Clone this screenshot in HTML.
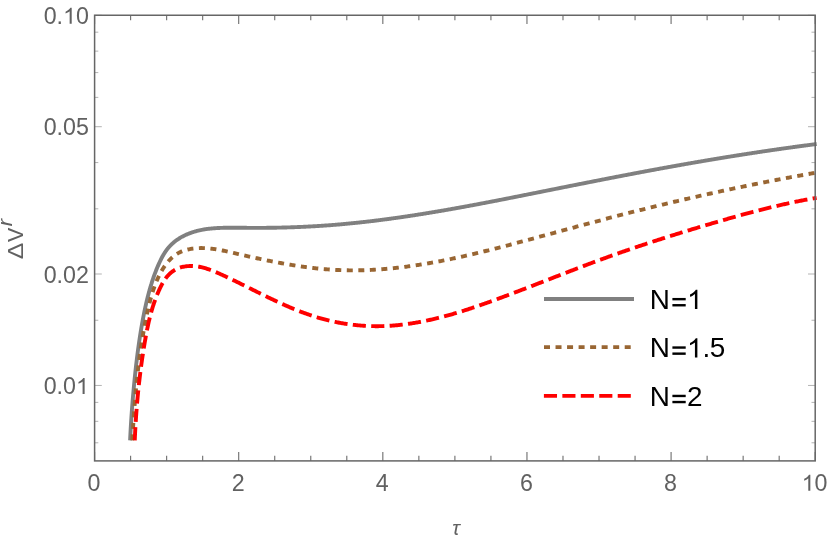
<!DOCTYPE html>
<html><head><meta charset="utf-8"><title>plot</title>
<style>html,body{margin:0;padding:0;background:#fff}body{width:830px;height:545px;overflow:hidden;font-family:"Liberation Sans",sans-serif}</style></head>
<body>
<svg width="830" height="545" viewBox="0 0 830 545" style="display:block;will-change:transform">
<rect width="830" height="545" fill="#fff"/>
<g fill="none" stroke-linecap="butt" stroke-linejoin="round">
<path d="M130.10 440.30 L130.13 439.63 L130.16 438.96 L130.20 438.29 L130.23 437.62 L130.26 436.95 L130.29 436.28 L130.33 435.61 L130.36 434.94 L130.40 434.27 L130.43 433.61 L130.47 432.94 L130.50 432.27 L130.54 431.60 L130.57 430.94 L130.61 430.27 L130.65 429.61 L130.69 428.94 L130.72 428.28 L130.76 427.61 L130.80 426.95 L130.84 426.29 L130.88 425.62 L130.92 424.96 L130.96 424.30 L131.00 423.64 L131.04 422.97 L131.08 422.31 L131.12 421.65 L131.17 420.99 L131.21 420.33 L131.25 419.67 L131.29 419.01 L131.34 418.35 L131.38 417.70 L131.43 417.04 L131.47 416.38 L131.52 415.72 L131.56 415.07 L131.61 414.41 L131.65 413.75 L131.70 413.10 L131.75 412.44 L131.79 411.78 L131.84 411.13 L131.89 410.48 L131.94 409.82 L131.99 409.17 L132.04 408.51 L132.08 407.86 L132.13 407.21 L132.18 406.56 L132.24 405.90 L132.29 405.25 L132.34 404.60 L132.39 403.95 L132.44 403.30 L132.49 402.65 L132.55 402.00 L132.60 401.35 L132.65 400.70 L132.70 400.05 L132.76 399.40 L132.81 398.75 L132.87 398.11 L132.92 397.46 L132.98 396.81 L133.03 396.16 L133.09 395.52 L133.15 394.87 L133.20 394.22 L133.26 393.58 L133.32 392.93 L133.37 392.29 L133.43 391.64 L133.49 391.00 L133.55 390.36 L133.61 389.71 L133.67 389.07 L133.73 388.43 L133.79 387.78 L133.85 387.14 L133.91 386.50 L133.97 385.86 L134.03 385.22 L134.09 384.57 L134.15 383.93 L134.21 383.29 L134.28 382.65 L134.34 382.01 L134.40 381.37 L134.47 380.73 L134.53 380.10 L134.59 379.46 L134.66 378.82 L134.72 378.18 L134.79 377.54 L134.85 376.91 L134.92 376.27 L134.99 375.63 L135.05 375.00 L135.12 374.36 L135.19 373.73 L135.25 373.09 L135.32 372.46 L135.39 371.82 L135.46 371.19 L135.53 370.56 L135.60 369.92 L135.67 369.29 L135.74 368.66 L135.81 368.03 L135.88 367.39 L135.95 366.76 L136.02 366.13 L136.09 365.50 L136.17 364.87 L136.24 364.24 L136.31 363.61 L136.39 362.98 L136.46 362.36 L136.54 361.73 L136.61 361.10 L136.69 360.47 L136.76 359.85 L136.84 359.22 L136.92 358.60 L136.99 357.97 L137.07 357.34 L137.15 356.72 L137.23 356.10 L137.31 355.47 L137.38 354.85 L137.46 354.23 L137.54 353.60 L137.63 352.98 L137.71 352.36 L137.79 351.74 L137.87 351.12 L137.95 350.50 L138.04 349.88 L138.12 349.26 L138.20 348.64 L138.29 348.02 L138.37 347.41 L138.46 346.79 L138.54 346.17 L138.63 345.56 L138.72 344.94 L138.80 344.33 L138.89 343.71 L138.98 343.10 L139.07 342.48 L139.16 341.87 L139.25 341.26 L139.34 340.65 L139.43 340.03 L139.52 339.42 L139.61 338.81 L139.71 338.20 L139.80 337.59 L139.89 336.98 L139.99 336.37 L140.08 335.77 L140.18 335.16 L140.27 334.55 L140.37 333.95 L140.46 333.34 L140.56 332.73 L140.66 332.13 L140.76 331.53 L140.86 330.92 L140.96 330.32 L141.06 329.72 L141.16 329.11 L141.26 328.51 L141.36 327.91 L141.46 327.31 L141.56 326.71 L141.67 326.11 L141.77 325.51 L141.88 324.92 L141.98 324.32 L142.09 323.72 L142.19 323.13 L142.30 322.53 L142.41 321.94 L142.52 321.34 L142.62 320.75 L142.73 320.15 L142.84 319.56 L142.95 318.97 L143.07 318.38 L143.18 317.79 L143.29 317.20 L143.40 316.61 L143.52 316.02 L143.63 315.43 L143.75 314.84 L143.86 314.26 L143.98 313.67 L144.10 313.09 L144.22 312.50 L144.33 311.92 L144.45 311.34 L144.57 310.75 L144.70 310.17 L144.82 309.59 L144.94 309.01 L145.06 308.43 L145.19 307.86 L145.31 307.28 L145.44 306.70 L145.57 306.13 L145.69 305.55 L145.82 304.98 L145.95 304.40 L146.08 303.83 L146.21 303.26 L146.34 302.69 L146.48 302.12 L146.61 301.55 L146.74 300.98 L146.88 300.41 L147.02 299.85 L147.15 299.28 L147.29 298.72 L147.43 298.15 L147.57 297.59 L147.71 297.03 L147.85 296.47 L148.00 295.91 L148.14 295.35 L148.28 294.79 L148.43 294.24 L148.58 293.68 L148.72 293.12 L148.87 292.57 L149.02 292.02 L149.17 291.47 L149.33 290.92 L149.48 290.37 L149.63 289.82 L149.79 289.27 L149.94 288.72 L150.10 288.18 L150.26 287.63 L150.42 287.09 L150.58 286.55 L150.74 286.01 L150.90 285.47 L151.07 284.93 L151.23 284.39 L151.40 283.86 L151.56 283.32 L151.73 282.79 L151.90 282.25 L152.07 281.72 L152.25 281.19 L152.42 280.66 L152.59 280.13 L152.77 279.61 L152.95 279.08 L153.12 278.56 L153.30 278.03 L153.48 277.51 L153.66 276.99 L153.85 276.47 L154.03 275.95 L154.22 275.43 L154.40 274.92 L154.59 274.40 L154.78 273.89 L154.97 273.38 L155.16 272.87 L155.36 272.36 L155.55 271.85 L155.75 271.34 L155.94 270.84 L156.14 270.33 L156.34 269.83 L156.54 269.33 L156.74 268.83 L156.95 268.33 L157.15 267.83 L157.36 267.34 L157.57 266.84 L157.78 266.35 L157.99 265.86 L158.20 265.37 L158.41 264.88 L158.63 264.39 L158.84 263.90 L159.06 263.42 L159.28 262.93 L159.50 262.45 L159.72 261.97 L159.94 261.49 L160.17 261.01 L160.40 260.54 L160.63 260.07 L160.86 259.59 L161.09 259.13 L161.33 258.66 L161.57 258.19 L161.81 257.73 L162.05 257.27 L162.30 256.82 L162.54 256.36 L162.80 255.91 L163.05 255.46 L163.31 255.02 L163.57 254.58 L163.83 254.14 L164.10 253.70 L164.37 253.27 L164.64 252.84 L164.92 252.41 L165.20 251.99 L165.48 251.57 L165.77 251.16 L166.06 250.74 L166.35 250.34 L166.65 249.93 L166.96 249.53 L167.26 249.14 L167.57 248.75 L167.89 248.36 L168.20 247.97 L168.53 247.59 L168.85 247.22 L169.18 246.84 L169.52 246.47 L169.85 246.11 L170.19 245.75 L170.54 245.39 L170.89 245.04 L171.24 244.69 L171.60 244.34 L171.96 244.00 L172.32 243.66 L172.69 243.32 L173.06 242.99 L173.44 242.67 L173.82 242.34 L174.20 242.02 L174.59 241.71 L174.98 241.40 L175.37 241.09 L175.77 240.78 L176.17 240.48 L176.58 240.19 L176.99 239.90 L177.40 239.61 L177.82 239.32 L178.24 239.04 L178.67 238.76 L179.09 238.49 L179.53 238.22 L179.96 237.95 L180.40 237.69 L180.85 237.43 L181.29 237.17 L181.74 236.92 L182.20 236.67 L182.65 236.43 L183.12 236.19 L183.58 235.95 L184.05 235.71 L184.52 235.48 L185.00 235.26 L185.47 235.03 L185.96 234.81 L186.44 234.60 L186.93 234.38 L187.42 234.17 L187.92 233.97 L188.42 233.76 L188.92 233.56 L189.43 233.37 L189.94 233.17 L190.45 232.98 L190.97 232.80 L191.49 232.61 L192.01 232.43 L192.54 232.26 L193.07 232.09 L193.60 231.92 L194.14 231.75 L194.68 231.59 L195.22 231.43 L195.77 231.28 L196.32 231.12 L196.87 230.98 L197.43 230.83 L197.99 230.69 L198.56 230.55 L199.13 230.42 L199.70 230.29 L200.28 230.16 L200.86 230.04 L201.44 229.92 L202.03 229.81 L202.62 229.70 L203.21 229.59 L203.81 229.48 L204.41 229.38 L205.02 229.29 L205.63 229.19 L206.24 229.10 L206.86 229.02 L207.48 228.93 L208.10 228.85 L208.73 228.78 L209.36 228.71 L209.99 228.64 L210.63 228.57 L211.26 228.51 L211.91 228.45 L212.55 228.39 L213.20 228.33 L213.85 228.28 L214.51 228.23 L215.16 228.19 L215.82 228.14 L216.48 228.10 L217.15 228.06 L217.81 228.03 L218.48 228.00 L219.15 227.96 L219.83 227.93 L220.50 227.91 L221.18 227.88 L221.86 227.86 L222.54 227.84 L223.22 227.82 L223.91 227.80 L224.60 227.79 L225.28 227.77 L225.97 227.76 L226.67 227.75 L227.36 227.74 L228.05 227.73 L228.75 227.73 L229.45 227.72 L230.15 227.72 L230.85 227.71 L231.55 227.71 L232.25 227.71 L232.95 227.71 L233.66 227.71 L234.36 227.72 L235.07 227.72 L235.77 227.72 L236.48 227.73 L237.19 227.73 L237.90 227.74 L238.60 227.75 L239.31 227.75 L240.02 227.76 L240.73 227.77 L241.44 227.77 L242.15 227.78 L242.86 227.79 L243.57 227.79 L244.28 227.80 L244.99 227.81 L245.70 227.82 L246.41 227.82 L247.12 227.83 L247.83 227.84 L248.54 227.84 L249.24 227.85 L249.95 227.85 L250.66 227.85 L251.36 227.86 L252.07 227.86 L252.77 227.86 L253.48 227.87 L254.18 227.87 L254.89 227.87 L255.59 227.87 L256.29 227.87 L257.00 227.87 L257.70 227.87 L258.40 227.87 L259.10 227.87 L259.80 227.87 L260.50 227.86 L261.20 227.86 L261.90 227.86 L262.60 227.85 L263.30 227.85 L264.00 227.85 L264.69 227.84 L265.39 227.84 L266.09 227.83 L266.78 227.82 L267.48 227.82 L268.18 227.81 L268.87 227.80 L269.56 227.79 L270.26 227.78 L270.95 227.78 L271.64 227.77 L272.34 227.76 L273.03 227.74 L273.72 227.73 L274.41 227.72 L275.10 227.71 L275.79 227.70 L276.48 227.69 L277.17 227.67 L277.86 227.66 L278.55 227.64 L279.24 227.63 L279.92 227.61 L280.61 227.60 L281.30 227.58 L281.98 227.57 L282.67 227.55 L283.35 227.53 L284.04 227.51 L284.72 227.50 L285.41 227.48 L286.09 227.46 L286.77 227.44 L287.45 227.42 L288.14 227.40 L288.82 227.38 L289.50 227.35 L290.18 227.33 L290.86 227.31 L291.54 227.29 L292.22 227.26 L292.90 227.24 L293.58 227.22 L294.25 227.19 L294.93 227.17 L295.61 227.14 L296.28 227.11 L296.96 227.09 L297.64 227.06 L298.31 227.03 L298.99 227.00 L299.66 226.98 L300.33 226.95 L301.01 226.92 L301.68 226.89 L302.35 226.86 L303.02 226.83 L303.69 226.80 L304.37 226.76 L305.04 226.73 L305.71 226.70 L306.38 226.67 L307.04 226.63 L307.71 226.60 L308.38 226.57 L309.05 226.53 L309.72 226.50 L310.38 226.46 L311.05 226.42 L311.72 226.39 L312.38 226.35 L313.05 226.31 L313.71 226.27 L314.37 226.24 L315.04 226.20 L315.70 226.16 L316.36 226.12 L317.03 226.08 L317.69 226.04 L318.35 226.00 L319.01 225.95 L319.67 225.91 L320.33 225.87 L320.99 225.83 L321.65 225.78 L322.31 225.74 L322.97 225.69 L323.62 225.65 L324.28 225.60 L324.94 225.56 L325.59 225.51 L326.25 225.46 L326.90 225.42 L327.56 225.37 L328.21 225.32 L328.87 225.27 L329.52 225.22 L330.18 225.18 L330.83 225.13 L331.48 225.08 L332.13 225.02 L332.78 224.97 L333.43 224.92 L334.08 224.87 L334.73 224.82 L335.38 224.76 L336.03 224.71 L336.68 224.66 L337.33 224.60 L337.98 224.55 L338.63 224.49 L339.27 224.44 L339.92 224.38 L340.57 224.33 L341.21 224.27 L341.86 224.21 L342.50 224.15 L343.15 224.10 L343.79 224.04 L344.43 223.98 L345.08 223.92 L345.72 223.86 L346.36 223.80 L347.01 223.74 L347.65 223.68 L348.29 223.62 L348.93 223.56 L349.57 223.49 L350.21 223.43 L350.85 223.37 L351.49 223.31 L352.13 223.24 L352.77 223.18 L353.41 223.11 L354.04 223.05 L354.68 222.98 L355.32 222.92 L355.95 222.85 L356.59 222.79 L357.23 222.72 L357.86 222.65 L358.50 222.59 L359.13 222.52 L359.77 222.45 L360.40 222.38 L361.03 222.31 L361.67 222.24 L362.30 222.17 L362.93 222.10 L363.57 222.03 L364.20 221.96 L364.83 221.89 L365.46 221.82 L366.09 221.75 L366.72 221.68 L367.35 221.60 L367.98 221.53 L368.61 221.46 L369.24 221.39 L369.87 221.31 L370.50 221.24 L371.13 221.16 L371.75 221.09 L372.38 221.01 L373.01 220.94 L373.63 220.86 L374.26 220.79 L374.89 220.71 L375.51 220.63 L376.14 220.56 L376.76 220.48 L377.39 220.40 L378.01 220.32 L378.64 220.24 L379.26 220.17 L379.88 220.09 L380.51 220.01 L381.13 219.93 L381.75 219.85 L382.37 219.77 L383.00 219.69 L383.62 219.61 L384.24 219.52 L384.86 219.44 L385.48 219.36 L386.10 219.28 L386.72 219.20 L387.34 219.11 L387.96 219.03 L388.58 218.95 L389.20 218.86 L389.82 218.78 L390.44 218.70 L391.05 218.61 L391.67 218.53 L392.29 218.44 L392.91 218.36 L393.52 218.27 L394.14 218.19 L394.76 218.10 L395.37 218.01 L395.99 217.93 L396.61 217.84 L397.22 217.75 L397.84 217.66 L398.45 217.58 L399.07 217.49 L399.68 217.40 L400.29 217.31 L400.91 217.22 L401.52 217.13 L402.13 217.05 L402.75 216.96 L403.36 216.87 L403.97 216.78 L404.59 216.69 L405.20 216.60 L405.81 216.50 L406.42 216.41 L407.03 216.32 L407.64 216.23 L408.25 216.14 L408.86 216.05 L409.47 215.96 L410.08 215.86 L410.69 215.77 L411.30 215.68 L411.91 215.58 L412.52 215.49 L413.13 215.40 L413.74 215.30 L414.35 215.21 L414.96 215.12 L415.57 215.02 L416.17 214.93 L416.78 214.83 L417.39 214.74 L418.00 214.64 L418.60 214.55 L419.21 214.45 L419.82 214.35 L420.42 214.26 L421.03 214.16 L421.64 214.07 L422.24 213.97 L422.85 213.87 L423.45 213.77 L424.06 213.68 L424.66 213.58 L425.27 213.48 L425.87 213.38 L426.48 213.29 L427.08 213.19 L427.68 213.09 L428.29 212.99 L428.89 212.89 L429.49 212.79 L430.10 212.69 L430.70 212.59 L431.30 212.49 L431.91 212.39 L432.51 212.29 L433.11 212.19 L433.71 212.09 L434.32 211.99 L434.92 211.89 L435.52 211.79 L436.12 211.69 L436.72 211.59 L437.32 211.49 L437.92 211.38 L438.52 211.28 L439.12 211.18 L439.72 211.08 L440.32 210.98 L440.92 210.87 L441.52 210.77 L442.12 210.67 L442.72 210.56 L443.32 210.46 L443.92 210.36 L444.52 210.25 L445.12 210.15 L445.72 210.05 L446.32 209.94 L446.91 209.84 L447.51 209.73 L448.11 209.63 L448.71 209.52 L449.30 209.42 L449.90 209.31 L450.50 209.21 L451.10 209.10 L451.69 209.00 L452.29 208.89 L452.89 208.78 L453.48 208.68 L454.08 208.57 L454.68 208.47 L455.27 208.36 L455.87 208.25 L456.46 208.15 L457.06 208.04 L457.65 207.93 L458.25 207.82 L458.85 207.72 L459.44 207.61 L460.03 207.50 L460.63 207.39 L461.22 207.29 L461.82 207.18 L462.41 207.07 L463.01 206.96 L463.60 206.85 L464.20 206.74 L464.79 206.64 L465.38 206.53 L465.98 206.42 L466.57 206.31 L467.16 206.20 L467.76 206.09 L468.35 205.98 L468.94 205.87 L469.53 205.76 L470.13 205.65 L470.72 205.54 L471.31 205.43 L471.90 205.32 L472.50 205.21 L473.09 205.10 L473.68 204.99 L474.27 204.88 L474.86 204.77 L475.46 204.66 L476.05 204.55 L476.64 204.43 L477.23 204.32 L477.82 204.21 L478.41 204.10 L479.00 203.99 L479.59 203.88 L480.18 203.77 L480.77 203.65 L481.36 203.54 L481.96 203.43 L482.55 203.32 L483.14 203.20 L483.73 203.09 L484.32 202.98 L484.91 202.87 L485.50 202.75 L486.09 202.64 L486.67 202.53 L487.26 202.41 L487.85 202.30 L488.44 202.19 L489.03 202.08 L489.62 201.96 L490.21 201.85 L490.80 201.73 L491.39 201.62 L491.98 201.51 L492.57 201.39 L493.15 201.28 L493.74 201.17 L494.33 201.05 L494.92 200.94 L495.51 200.82 L496.10 200.71 L496.68 200.59 L497.27 200.48 L497.86 200.37 L498.45 200.25 L499.04 200.14 L499.62 200.02 L500.21 199.91 L500.80 199.79 L501.39 199.68 L501.97 199.56 L502.56 199.45 L503.15 199.33 L503.74 199.22 L504.32 199.10 L504.91 198.98 L505.50 198.87 L506.08 198.75 L506.67 198.64 L507.26 198.52 L507.85 198.41 L508.43 198.29 L509.02 198.18 L509.61 198.06 L510.19 197.94 L510.78 197.83 L511.37 197.71 L511.95 197.60 L512.54 197.48 L513.12 197.36 L513.71 197.25 L514.30 197.13 L514.88 197.01 L515.47 196.90 L516.06 196.78 L516.64 196.67 L517.23 196.55 L517.81 196.43 L518.40 196.32 L518.99 196.20 L519.57 196.08 L520.16 195.97 L520.74 195.85 L521.33 195.73 L521.92 195.62 L522.50 195.50 L523.09 195.38 L523.67 195.27 L524.26 195.15 L524.84 195.03 L525.43 194.91 L526.01 194.80 L526.60 194.68 L527.19 194.56 L527.77 194.45 L528.36 194.33 L528.94 194.21 L529.53 194.10 L530.11 193.98 L530.70 193.86 L531.28 193.74 L531.87 193.63 L532.45 193.51 L533.04 193.39 L533.63 193.28 L534.21 193.16 L534.80 193.04 L535.38 192.92 L535.97 192.81 L536.55 192.69 L537.14 192.57 L537.72 192.45 L538.31 192.34 L538.89 192.22 L539.48 192.10 L540.06 191.99 L540.65 191.87 L541.23 191.75 L541.82 191.63 L542.40 191.52 L542.99 191.40 L543.58 191.28 L544.16 191.16 L544.75 191.05 L545.33 190.93 L545.92 190.81 L546.50 190.70 L547.09 190.58 L547.67 190.46 L548.26 190.34 L548.84 190.23 L549.43 190.11 L550.01 189.99 L550.60 189.88 L551.18 189.76 L551.77 189.64 L552.36 189.52 L552.94 189.41 L553.53 189.29 L554.11 189.17 L554.70 189.06 L555.28 188.94 L555.87 188.82 L556.45 188.70 L557.04 188.59 L557.62 188.47 L558.21 188.35 L558.80 188.24 L559.38 188.12 L559.97 188.00 L560.55 187.89 L561.14 187.77 L561.72 187.65 L562.31 187.53 L562.89 187.42 L563.48 187.30 L564.07 187.18 L564.65 187.07 L565.24 186.95 L565.82 186.83 L566.41 186.72 L566.99 186.60 L567.58 186.48 L568.17 186.37 L568.75 186.25 L569.34 186.13 L569.92 186.02 L570.51 185.90 L571.09 185.78 L571.68 185.67 L572.27 185.55 L572.85 185.43 L573.44 185.32 L574.02 185.20 L574.61 185.08 L575.20 184.97 L575.78 184.85 L576.37 184.73 L576.96 184.62 L577.54 184.50 L578.13 184.38 L578.71 184.27 L579.30 184.15 L579.89 184.04 L580.47 183.92 L581.06 183.80 L581.65 183.69 L582.23 183.57 L582.82 183.46 L583.40 183.34 L583.99 183.22 L584.58 183.11 L585.16 182.99 L585.75 182.88 L586.34 182.76 L586.92 182.64 L587.51 182.53 L588.10 182.41 L588.68 182.30 L589.27 182.18 L589.86 182.06 L590.44 181.95 L591.03 181.83 L591.62 181.72 L592.21 181.60 L592.79 181.49 L593.38 181.37 L593.97 181.26 L594.55 181.14 L595.14 181.02 L595.73 180.91 L596.31 180.79 L596.90 180.68 L597.49 180.56 L598.08 180.45 L598.66 180.33 L599.25 180.22 L599.84 180.10 L600.43 179.99 L601.01 179.87 L601.60 179.76 L602.19 179.64 L602.78 179.53 L603.36 179.41 L603.95 179.30 L604.54 179.18 L605.13 179.07 L605.72 178.95 L606.30 178.84 L606.89 178.72 L607.48 178.61 L608.07 178.50 L608.66 178.38 L609.24 178.27 L609.83 178.15 L610.42 178.04 L611.01 177.92 L611.60 177.81 L612.19 177.70 L612.77 177.58 L613.36 177.47 L613.95 177.35 L614.54 177.24 L615.13 177.13 L615.72 177.01 L616.31 176.90 L616.89 176.78 L617.48 176.67 L618.07 176.56 L618.66 176.44 L619.25 176.33 L619.84 176.22 L620.43 176.10 L621.02 175.99 L621.61 175.88 L622.20 175.76 L622.79 175.65 L623.38 175.54 L623.96 175.42 L624.55 175.31 L625.14 175.20 L625.73 175.09 L626.32 174.97 L626.91 174.86 L627.50 174.75 L628.09 174.63 L628.68 174.52 L629.27 174.41 L629.86 174.30 L630.45 174.18 L631.04 174.07 L631.63 173.96 L632.22 173.85 L632.81 173.74 L633.40 173.62 L634.00 173.51 L634.59 173.40 L635.18 173.29 L635.77 173.18 L636.36 173.06 L636.95 172.95 L637.54 172.84 L638.13 172.73 L638.72 172.62 L639.31 172.51 L639.90 172.39 L640.49 172.28 L641.09 172.17 L641.68 172.06 L642.27 171.95 L642.86 171.84 L643.45 171.73 L644.04 171.62 L644.64 171.51 L645.23 171.40 L645.82 171.28 L646.41 171.17 L647.00 171.06 L647.60 170.95 L648.19 170.84 L648.78 170.73 L649.37 170.62 L649.96 170.51 L650.56 170.40 L651.15 170.29 L651.74 170.18 L652.33 170.07 L652.93 169.96 L653.52 169.85 L654.11 169.74 L654.71 169.63 L655.30 169.52 L655.89 169.41 L656.49 169.31 L657.08 169.20 L657.67 169.09 L658.27 168.98 L658.86 168.87 L659.45 168.76 L660.05 168.65 L660.64 168.54 L661.23 168.43 L661.83 168.32 L662.42 168.22 L663.02 168.11 L663.61 168.00 L664.20 167.89 L664.80 167.78 L665.39 167.68 L665.99 167.57 L666.58 167.46 L667.18 167.35 L667.77 167.24 L668.37 167.14 L668.96 167.03 L669.56 166.92 L670.15 166.81 L670.75 166.71 L671.34 166.60 L671.94 166.49 L672.53 166.38 L673.13 166.28 L673.72 166.17 L674.32 166.06 L674.92 165.96 L675.51 165.85 L676.11 165.74 L676.70 165.64 L677.30 165.53 L677.90 165.43 L678.49 165.32 L679.09 165.21 L679.69 165.11 L680.28 165.00 L680.88 164.90 L681.48 164.79 L682.07 164.68 L682.67 164.58 L683.27 164.47 L683.86 164.37 L684.46 164.26 L685.06 164.16 L685.66 164.05 L686.25 163.95 L686.85 163.84 L687.45 163.74 L688.05 163.63 L688.65 163.53 L689.24 163.42 L689.84 163.32 L690.44 163.21 L691.04 163.11 L691.64 163.01 L692.23 162.90 L692.83 162.80 L693.43 162.69 L694.03 162.59 L694.63 162.49 L695.23 162.38 L695.83 162.28 L696.43 162.18 L697.03 162.07 L697.63 161.97 L698.22 161.87 L698.82 161.76 L699.42 161.66 L700.02 161.56 L700.62 161.46 L701.22 161.35 L701.82 161.25 L702.42 161.15 L703.02 161.05 L703.62 160.94 L704.23 160.84 L704.83 160.74 L705.43 160.64 L706.03 160.54 L706.63 160.43 L707.23 160.33 L707.83 160.23 L708.43 160.13 L709.03 160.03 L709.63 159.93 L710.24 159.83 L710.84 159.73 L711.44 159.62 L712.04 159.52 L712.64 159.42 L713.24 159.32 L713.85 159.22 L714.45 159.12 L715.05 159.02 L715.65 158.92 L716.26 158.82 L716.86 158.72 L717.46 158.62 L718.06 158.52 L718.67 158.42 L719.27 158.32 L719.87 158.22 L720.48 158.12 L721.08 158.03 L721.68 157.93 L722.29 157.83 L722.89 157.73 L723.49 157.63 L724.10 157.53 L724.70 157.43 L725.31 157.33 L725.91 157.24 L726.51 157.14 L727.12 157.04 L727.72 156.94 L728.33 156.84 L728.93 156.75 L729.54 156.65 L730.14 156.55 L730.75 156.45 L731.35 156.36 L731.96 156.26 L732.56 156.16 L733.17 156.06 L733.78 155.97 L734.38 155.87 L734.99 155.77 L735.59 155.68 L736.20 155.58 L736.81 155.49 L737.41 155.39 L738.02 155.29 L738.62 155.20 L739.23 155.10 L739.84 155.01 L740.45 154.91 L741.05 154.81 L741.66 154.72 L742.27 154.62 L742.87 154.53 L743.48 154.43 L744.09 154.34 L744.70 154.24 L745.30 154.15 L745.91 154.05 L746.52 153.96 L747.13 153.87 L747.74 153.77 L748.35 153.68 L748.95 153.58 L749.56 153.49 L750.17 153.40 L750.78 153.30 L751.39 153.21 L752.00 153.11 L752.61 153.02 L753.22 152.93 L753.83 152.84 L754.44 152.74 L755.05 152.65 L755.66 152.56 L756.27 152.46 L756.88 152.37 L757.49 152.28 L758.10 152.19 L758.71 152.10 L759.32 152.00 L759.93 151.91 L760.54 151.82 L761.15 151.73 L761.76 151.64 L762.37 151.55 L762.98 151.45 L763.59 151.36 L764.21 151.27 L764.82 151.18 L765.43 151.09 L766.04 151.00 L766.65 150.91 L767.27 150.82 L767.88 150.73 L768.49 150.64 L769.10 150.55 L769.72 150.46 L770.33 150.37 L770.94 150.28 L771.55 150.19 L772.17 150.10 L772.78 150.01 L773.39 149.92 L774.01 149.83 L774.62 149.74 L775.24 149.66 L775.85 149.57 L776.46 149.48 L777.08 149.39 L777.69 149.30 L778.31 149.21 L778.92 149.13 L779.54 149.04 L780.15 148.95 L780.77 148.86 L781.38 148.78 L782.00 148.69 L782.61 148.60 L783.23 148.51 L783.84 148.43 L784.46 148.34 L785.07 148.25 L785.69 148.17 L786.31 148.08 L786.92 147.99 L787.54 147.91 L788.16 147.82 L788.77 147.74 L789.39 147.65 L790.01 147.57 L790.62 147.48 L791.24 147.39 L791.86 147.31 L792.48 147.22 L793.09 147.14 L793.71 147.05 L794.33 146.97 L794.95 146.89 L795.56 146.80 L796.18 146.72 L796.80 146.63 L797.42 146.55 L798.04 146.46 L798.66 146.38 L799.28 146.30 L799.90 146.21 L800.51 146.13 L801.13 146.05 L801.75 145.96 L802.37 145.88 L802.99 145.80 L803.61 145.72 L804.23 145.63 L804.85 145.55 L805.47 145.47 L806.09 145.39 L806.71 145.31 L807.34 145.22 L807.96 145.14 L808.58 145.06 L809.20 144.98 L809.82 144.90 L810.44 144.82 L811.06 144.74 L811.68 144.66 L812.31 144.57 L812.93 144.49 L813.55 144.41 L814.17 144.33 L814.80 144.25 L815.42 144.17 L816.04 144.09 L816.66 144.01" stroke="#808080" stroke-width="3.9"/>
<path d="M132.28 440.30 L132.34 439.30 L132.40 438.30 L132.46 437.31 L132.52 436.31 L132.58 435.31 L132.64 434.31 L132.70 433.31 L132.76 432.31 L132.82 431.31 L132.88 430.31 L132.94 429.32 L133.00 428.32 L133.06 427.32 L133.13 426.32 L133.19 425.32 L133.26 424.32 L133.32 423.32 L133.39 422.32 L133.45 421.32 L133.52 420.32 L133.59 419.32 L133.65 418.33 L133.72 417.33 L133.79 416.33 L133.86 415.33 L133.93 414.33 L134.00 413.33 L134.07 412.33 L134.15 411.33 L134.22 410.33 L134.29 409.33 L134.37 408.33 L134.44 407.34 L134.52 406.34 L134.60 405.34 L134.68 404.34 L134.75 403.34 L134.83 402.34 L134.92 401.34 L135.00 400.35 L135.08 399.35 L135.16 398.35 L135.25 397.35 L135.33 396.35 L135.42 395.36 L135.50 394.36 L135.59 393.36 L135.68 392.36 L135.77 391.36 L135.86 390.37 L135.95 389.37 L136.05 388.37 L136.14 387.38 L136.23 386.38 L136.33 385.38 L136.43 384.38 L136.53 383.39 L136.62 382.39 L136.72 381.40 L136.83 380.40 L136.93 379.40 L137.03 378.41 L137.14 377.41 L137.24 376.42 L137.35 375.42 L137.46 374.43 L137.57 373.43 L137.68 372.44 L137.79 371.44 L137.91 370.45 L138.02 369.45 L138.14 368.46 L138.26 367.46 L138.38 366.47 L138.50 365.48 L138.62 364.48 L138.74 363.49 L138.87 362.50 L138.99 361.50 L139.12 360.51 L139.25 359.52 L139.38 358.53 L139.51 357.54 L139.64 356.54 L139.78 355.55 L139.91 354.56 L140.05 353.57 L140.19 352.58 L140.33 351.59 L140.47 350.60 L140.62 349.61 L140.76 348.62 L140.91 347.63 L141.06 346.64 L141.21 345.65 L141.36 344.66 L141.52 343.68 L141.67 342.69 L141.83 341.70 L141.99 340.71 L142.15 339.73 L142.31 338.74 L142.47 337.75 L142.64 336.77 L142.81 335.78 L142.97 334.79 L143.15 333.81 L143.32 332.82 L143.49 331.84 L143.67 330.85 L143.85 329.87 L144.03 328.89 L144.21 327.90 L144.39 326.92 L144.58 325.94 L144.77 324.96 L144.96 323.97 L145.15 322.99 L145.34 322.01 L145.54 321.03 L145.73 320.05 L145.93 319.07 L146.13 318.09 L146.34 317.11 L146.54 316.13 L146.75 315.15 L146.96 314.17 L147.17 313.20 L147.39 312.22 L147.60 311.24 L147.82 310.27 L148.04 309.29 L148.26 308.31 L148.49 307.34 L148.72 306.36 L148.95 305.39 L149.19 304.42 L149.43 303.45 L149.67 302.47 L149.92 301.50 L150.17 300.54 L150.43 299.57 L150.69 298.60 L150.95 297.64 L151.23 296.67 L151.50 295.71 L151.79 294.75 L152.08 293.79 L152.37 292.83 L152.67 291.87 L152.98 290.92 L153.29 289.96 L153.61 289.01 L153.94 288.06 L154.28 287.12 L154.62 286.17 L154.97 285.23 L155.33 284.28 L155.70 283.35 L156.08 282.41 L156.46 281.47 L156.86 280.54 L157.26 279.61 L157.67 278.68 L158.10 277.76 L158.53 276.84 L158.97 275.92 L159.42 275.01 L159.88 274.10 L160.36 273.19 L160.84 272.30 L161.33 271.41 L161.84 270.52 L162.36 269.65 L162.89 268.79 L163.43 267.93 L163.98 267.09 L164.54 266.25 L165.12 265.43 L165.71 264.62 L166.31 263.82 L166.92 263.04 L167.55 262.27 L168.19 261.52 L168.84 260.78 L169.51 260.06 L170.19 259.35 L170.88 258.66 L171.59 257.99 L172.31 257.34 L173.05 256.71 L173.80 256.10 L174.57 255.51 L175.35 254.95 L176.14 254.40 L176.96 253.88 L177.78 253.38 L178.63 252.91 L179.48 252.46 L180.36 252.03 L181.25 251.64 L182.15 251.26 L183.07 250.91 L184.00 250.58 L184.94 250.28 L185.90 250.00 L186.86 249.74 L187.83 249.50 L188.81 249.28 L189.80 249.08 L190.79 248.90 L191.79 248.74 L192.79 248.60 L193.80 248.48 L194.81 248.37 L195.82 248.28 L196.84 248.21 L197.85 248.15 L198.87 248.11 L199.88 248.08 L200.89 248.07 L201.90 248.07 L202.90 248.08 L203.91 248.11 L204.91 248.15 L205.91 248.20 L206.91 248.26 L207.91 248.33 L208.91 248.42 L209.90 248.51 L210.89 248.62 L211.89 248.74 L212.88 248.86 L213.87 248.99 L214.86 249.13 L215.84 249.28 L216.83 249.44 L217.82 249.61 L218.80 249.78 L219.79 249.96 L220.77 250.14 L221.75 250.33 L222.73 250.53 L223.71 250.73 L224.69 250.93 L225.67 251.14 L226.65 251.36 L227.63 251.57 L228.61 251.79 L229.59 252.01 L230.57 252.24 L231.55 252.46 L232.53 252.69 L233.50 252.92 L234.48 253.15 L235.46 253.38 L236.44 253.61 L237.42 253.84 L238.40 254.06 L239.37 254.29 L240.35 254.52 L241.33 254.74 L242.31 254.97 L243.29 255.19 L244.27 255.42 L245.25 255.64 L246.23 255.87 L247.21 256.09 L248.19 256.31 L249.17 256.53 L250.15 256.75 L251.13 256.97 L252.11 257.19 L253.10 257.41 L254.08 257.62 L255.06 257.84 L256.04 258.05 L257.02 258.27 L258.00 258.48 L258.99 258.69 L259.97 258.90 L260.95 259.11 L261.93 259.32 L262.92 259.53 L263.90 259.73 L264.88 259.94 L265.87 260.14 L266.85 260.34 L267.83 260.55 L268.82 260.75 L269.80 260.94 L270.79 261.14 L271.77 261.34 L272.76 261.53 L273.74 261.73 L274.73 261.92 L275.71 262.11 L276.70 262.30 L277.68 262.48 L278.67 262.67 L279.65 262.85 L280.64 263.04 L281.63 263.22 L282.61 263.40 L283.60 263.57 L284.59 263.75 L285.57 263.92 L286.56 264.10 L287.55 264.27 L288.53 264.44 L289.52 264.60 L290.51 264.77 L291.50 264.93 L292.49 265.09 L293.48 265.25 L294.46 265.41 L295.45 265.57 L296.44 265.72 L297.43 265.87 L298.42 266.02 L299.41 266.17 L300.40 266.31 L301.39 266.46 L302.38 266.60 L303.37 266.74 L304.36 266.87 L305.35 267.01 L306.34 267.14 L307.33 267.27 L308.32 267.40 L309.32 267.52 L310.31 267.65 L311.30 267.77 L312.29 267.88 L313.28 268.00 L314.27 268.11 L315.27 268.22 L316.26 268.33 L317.25 268.44 L318.25 268.54 L319.24 268.64 L320.23 268.74 L321.23 268.83 L322.22 268.93 L323.21 269.02 L324.21 269.10 L325.20 269.19 L326.20 269.27 L327.19 269.35 L328.19 269.42 L329.18 269.50 L330.18 269.57 L331.17 269.63 L332.17 269.70 L333.16 269.76 L334.16 269.82 L335.16 269.87 L336.15 269.93 L337.15 269.98 L338.15 270.02 L339.14 270.07 L340.14 270.11 L341.14 270.14 L342.14 270.18 L343.13 270.21 L344.13 270.24 L345.13 270.26 L346.13 270.28 L347.13 270.30 L348.12 270.32 L349.12 270.33 L350.12 270.34 L351.12 270.35 L352.12 270.35 L353.12 270.35 L354.12 270.35 L355.12 270.34 L356.12 270.34 L357.11 270.33 L358.11 270.31 L359.11 270.30 L360.11 270.28 L361.11 270.26 L362.11 270.23 L363.11 270.21 L364.11 270.18 L365.11 270.14 L366.11 270.11 L367.11 270.07 L368.11 270.03 L369.11 269.99 L370.11 269.94 L371.11 269.89 L372.11 269.84 L373.11 269.79 L374.11 269.73 L375.11 269.67 L376.11 269.61 L377.11 269.55 L378.11 269.48 L379.11 269.42 L380.11 269.35 L381.11 269.27 L382.11 269.20 L383.10 269.12 L384.10 269.04 L385.10 268.95 L386.10 268.87 L387.10 268.78 L388.10 268.69 L389.10 268.60 L390.10 268.51 L391.09 268.41 L392.09 268.31 L393.09 268.21 L394.09 268.10 L395.08 268.00 L396.08 267.89 L397.08 267.78 L398.08 267.67 L399.07 267.55 L400.07 267.44 L401.07 267.32 L402.06 267.20 L403.06 267.08 L404.05 266.95 L405.05 266.82 L406.04 266.70 L407.04 266.56 L408.03 266.43 L409.03 266.30 L410.02 266.16 L411.02 266.02 L412.01 265.88 L413.00 265.74 L414.00 265.59 L414.99 265.45 L415.98 265.30 L416.98 265.15 L417.97 265.00 L418.96 264.84 L419.95 264.69 L420.94 264.53 L421.93 264.37 L422.92 264.21 L423.91 264.05 L424.90 263.89 L425.89 263.72 L426.88 263.55 L427.87 263.38 L428.86 263.21 L429.84 263.04 L430.83 262.87 L431.82 262.69 L432.80 262.51 L433.79 262.33 L434.78 262.15 L435.76 261.97 L436.75 261.79 L437.73 261.60 L438.71 261.42 L439.70 261.23 L440.68 261.04 L441.66 260.85 L442.65 260.66 L443.63 260.46 L444.61 260.27 L445.59 260.07 L446.57 259.87 L447.56 259.67 L448.54 259.47 L449.52 259.27 L450.50 259.07 L451.48 258.86 L452.45 258.66 L453.43 258.45 L454.41 258.24 L455.39 258.03 L456.37 257.82 L457.35 257.61 L458.32 257.40 L459.30 257.18 L460.28 256.97 L461.26 256.75 L462.23 256.53 L463.21 256.31 L464.18 256.09 L465.16 255.87 L466.13 255.65 L467.11 255.43 L468.08 255.20 L469.06 254.98 L470.03 254.75 L471.01 254.52 L471.98 254.30 L472.95 254.07 L473.93 253.84 L474.90 253.60 L475.87 253.37 L476.85 253.14 L477.82 252.91 L478.79 252.67 L479.76 252.43 L480.73 252.20 L481.71 251.96 L482.68 251.72 L483.65 251.48 L484.62 251.24 L485.59 251.00 L486.56 250.76 L487.53 250.52 L488.50 250.27 L489.47 250.03 L490.44 249.79 L491.41 249.54 L492.38 249.29 L493.35 249.05 L494.32 248.80 L495.29 248.55 L496.26 248.30 L497.22 248.05 L498.19 247.80 L499.16 247.55 L500.13 247.30 L501.10 247.05 L502.07 246.80 L503.03 246.55 L504.00 246.29 L504.97 246.04 L505.94 245.79 L506.90 245.53 L507.87 245.28 L508.84 245.02 L509.81 244.76 L510.77 244.51 L511.74 244.25 L512.71 243.99 L513.67 243.74 L514.64 243.48 L515.61 243.22 L516.57 242.96 L517.54 242.70 L518.51 242.45 L519.47 242.19 L520.44 241.93 L521.41 241.67 L522.37 241.41 L523.34 241.15 L524.31 240.89 L525.27 240.62 L526.24 240.36 L527.20 240.10 L528.17 239.84 L529.14 239.58 L530.10 239.32 L531.07 239.06 L532.03 238.80 L533.00 238.53 L533.97 238.27 L534.93 238.01 L535.90 237.75 L536.86 237.49 L537.83 237.22 L538.80 236.96 L539.76 236.70 L540.73 236.44 L541.69 236.17 L542.66 235.91 L543.63 235.65 L544.59 235.39 L545.56 235.12 L546.52 234.86 L547.49 234.60 L548.46 234.34 L549.42 234.07 L550.39 233.81 L551.35 233.55 L552.32 233.29 L553.29 233.02 L554.25 232.76 L555.22 232.50 L556.18 232.24 L557.15 231.97 L558.12 231.71 L559.08 231.45 L560.05 231.19 L561.02 230.93 L561.98 230.66 L562.95 230.40 L563.91 230.14 L564.88 229.88 L565.85 229.62 L566.81 229.35 L567.78 229.09 L568.75 228.83 L569.71 228.57 L570.68 228.31 L571.65 228.05 L572.61 227.78 L573.58 227.52 L574.55 227.26 L575.51 227.00 L576.48 226.74 L577.45 226.48 L578.41 226.22 L579.38 225.96 L580.35 225.70 L581.31 225.44 L582.28 225.18 L583.25 224.92 L584.21 224.66 L585.18 224.40 L586.15 224.14 L587.11 223.88 L588.08 223.62 L589.05 223.36 L590.02 223.10 L590.98 222.84 L591.95 222.59 L592.92 222.33 L593.89 222.07 L594.85 221.81 L595.82 221.55 L596.79 221.30 L597.76 221.04 L598.72 220.78 L599.69 220.53 L600.66 220.27 L601.63 220.01 L602.59 219.76 L603.56 219.50 L604.53 219.25 L605.50 218.99 L606.47 218.74 L607.44 218.48 L608.40 218.23 L609.37 217.97 L610.34 217.72 L611.31 217.46 L612.28 217.21 L613.25 216.96 L614.21 216.71 L615.18 216.45 L616.15 216.20 L617.12 215.95 L618.09 215.70 L619.06 215.45 L620.03 215.20 L621.00 214.95 L621.97 214.69 L622.94 214.45 L623.91 214.20 L624.88 213.95 L625.85 213.70 L626.82 213.45 L627.79 213.20 L628.76 212.95 L629.73 212.71 L630.70 212.46 L631.67 212.21 L632.64 211.97 L633.61 211.72 L634.58 211.47 L635.55 211.23 L636.52 210.98 L637.49 210.74 L638.46 210.50 L639.43 210.25 L640.40 210.01 L641.37 209.77 L642.34 209.52 L643.32 209.28 L644.29 209.04 L645.26 208.80 L646.23 208.56 L647.20 208.32 L648.17 208.08 L649.14 207.84 L650.12 207.60 L651.09 207.36 L652.06 207.12 L653.03 206.88 L654.01 206.64 L654.98 206.41 L655.95 206.17 L656.92 205.93 L657.90 205.70 L658.87 205.46 L659.84 205.23 L660.81 204.99 L661.79 204.76 L662.76 204.52 L663.73 204.29 L664.71 204.05 L665.68 203.82 L666.65 203.59 L667.63 203.35 L668.60 203.12 L669.57 202.89 L670.55 202.66 L671.52 202.43 L672.50 202.20 L673.47 201.97 L674.44 201.74 L675.42 201.51 L676.39 201.28 L677.37 201.05 L678.34 200.82 L679.32 200.60 L680.29 200.37 L681.26 200.14 L682.24 199.91 L683.21 199.69 L684.19 199.46 L685.16 199.24 L686.14 199.01 L687.12 198.79 L688.09 198.56 L689.07 198.34 L690.04 198.11 L691.02 197.89 L691.99 197.67 L692.97 197.45 L693.94 197.22 L694.92 197.00 L695.90 196.78 L696.87 196.56 L697.85 196.34 L698.83 196.12 L699.80 195.90 L700.78 195.68 L701.75 195.46 L702.73 195.24 L703.71 195.03 L704.69 194.81 L705.66 194.59 L706.64 194.37 L707.62 194.16 L708.59 193.94 L709.57 193.73 L710.55 193.51 L711.53 193.29 L712.50 193.08 L713.48 192.87 L714.46 192.65 L715.44 192.44 L716.41 192.23 L717.39 192.01 L718.37 191.80 L719.35 191.59 L720.33 191.38 L721.31 191.17 L722.28 190.96 L723.26 190.75 L724.24 190.54 L725.22 190.33 L726.20 190.12 L727.18 189.91 L728.16 189.70 L729.14 189.49 L730.12 189.28 L731.09 189.08 L732.07 188.87 L733.05 188.66 L734.03 188.46 L735.01 188.25 L735.99 188.05 L736.97 187.84 L737.95 187.64 L738.93 187.43 L739.91 187.23 L740.89 187.03 L741.87 186.82 L742.85 186.62 L743.83 186.42 L744.81 186.22 L745.79 186.02 L746.77 185.82 L747.76 185.62 L748.74 185.42 L749.72 185.22 L750.70 185.02 L751.68 184.82 L752.66 184.62 L753.64 184.42 L754.62 184.22 L755.60 184.03 L756.59 183.83 L757.57 183.63 L758.55 183.44 L759.53 183.24 L760.51 183.05 L761.49 182.85 L762.48 182.66 L763.46 182.46 L764.44 182.27 L765.42 182.08 L766.41 181.88 L767.39 181.69 L768.37 181.50 L769.35 181.31 L770.34 181.12 L771.32 180.93 L772.30 180.73 L773.28 180.54 L774.27 180.35 L775.25 180.17 L776.23 179.98 L777.22 179.79 L778.20 179.60 L779.18 179.41 L780.17 179.23 L781.15 179.04 L782.14 178.85 L783.12 178.67 L784.10 178.48 L785.09 178.29 L786.07 178.11 L787.06 177.93 L788.04 177.74 L789.02 177.56 L790.01 177.37 L790.99 177.19 L791.98 177.01 L792.96 176.83 L793.95 176.65 L794.93 176.46 L795.92 176.28 L796.90 176.10 L797.89 175.92 L798.87 175.74 L799.86 175.56 L800.84 175.38 L801.83 175.21 L802.82 175.03 L803.80 174.85 L804.79 174.67 L805.77 174.50 L806.76 174.32 L807.74 174.14 L808.73 173.97 L809.72 173.79 L810.70 173.62 L811.69 173.44 L812.68 173.27 L813.66 173.10 L814.65 172.92 L815.64 172.75 L816.62 172.58" stroke="#996633" stroke-width="3.9" stroke-dasharray="6 5.53"/>
<path d="M134.76 440.30 L134.80 439.30 L134.84 438.30 L134.89 437.30 L134.93 436.30 L134.98 435.30 L135.03 434.31 L135.08 433.31 L135.13 432.31 L135.18 431.31 L135.23 430.31 L135.29 429.31 L135.34 428.31 L135.40 427.31 L135.45 426.31 L135.51 425.31 L135.57 424.31 L135.63 423.31 L135.69 422.32 L135.76 421.32 L135.82 420.32 L135.88 419.32 L135.95 418.32 L136.02 417.32 L136.09 416.32 L136.16 415.32 L136.23 414.33 L136.30 413.33 L136.37 412.33 L136.45 411.33 L136.52 410.33 L136.60 409.33 L136.67 408.33 L136.75 407.34 L136.83 406.34 L136.92 405.34 L137.00 404.34 L137.08 403.34 L137.17 402.35 L137.25 401.35 L137.34 400.35 L137.43 399.35 L137.52 398.36 L137.61 397.36 L137.70 396.36 L137.80 395.36 L137.89 394.37 L137.99 393.37 L138.09 392.37 L138.19 391.38 L138.29 390.38 L138.39 389.38 L138.49 388.39 L138.59 387.39 L138.70 386.40 L138.81 385.40 L138.91 384.41 L139.02 383.41 L139.13 382.41 L139.25 381.42 L139.36 380.42 L139.47 379.43 L139.59 378.44 L139.71 377.44 L139.82 376.45 L139.94 375.45 L140.07 374.46 L140.19 373.46 L140.31 372.47 L140.44 371.48 L140.56 370.48 L140.69 369.49 L140.82 368.50 L140.95 367.51 L141.09 366.51 L141.22 365.52 L141.35 364.53 L141.49 363.54 L141.63 362.55 L141.77 361.56 L141.91 360.56 L142.05 359.57 L142.19 358.58 L142.34 357.59 L142.48 356.60 L142.63 355.61 L142.78 354.62 L142.93 353.63 L143.08 352.64 L143.24 351.65 L143.39 350.67 L143.55 349.68 L143.71 348.69 L143.87 347.70 L144.03 346.71 L144.19 345.73 L144.35 344.74 L144.52 343.75 L144.69 342.77 L144.85 341.78 L145.02 340.79 L145.20 339.81 L145.37 338.82 L145.54 337.84 L145.72 336.85 L145.90 335.87 L146.08 334.89 L146.27 333.90 L146.45 332.92 L146.64 331.94 L146.83 330.96 L147.03 329.98 L147.22 329.00 L147.42 328.02 L147.63 327.04 L147.83 326.06 L148.04 325.09 L148.26 324.11 L148.48 323.14 L148.70 322.16 L148.92 321.19 L149.15 320.22 L149.38 319.25 L149.62 318.28 L149.86 317.31 L150.11 316.34 L150.36 315.37 L150.61 314.41 L150.87 313.44 L151.13 312.48 L151.40 311.52 L151.68 310.56 L151.96 309.60 L152.24 308.64 L152.53 307.69 L152.83 306.73 L153.13 305.78 L153.44 304.83 L153.75 303.88 L154.07 302.93 L154.40 301.99 L154.73 301.04 L155.07 300.10 L155.41 299.16 L155.76 298.22 L156.12 297.28 L156.49 296.34 L156.86 295.41 L157.24 294.48 L157.62 293.55 L158.02 292.62 L158.42 291.69 L158.83 290.77 L159.24 289.85 L159.67 288.93 L160.10 288.01 L160.54 287.10 L160.99 286.19 L161.45 285.28 L161.92 284.39 L162.41 283.50 L162.91 282.62 L163.43 281.75 L163.96 280.89 L164.51 280.05 L165.08 279.22 L165.66 278.40 L166.27 277.60 L166.90 276.82 L167.54 276.06 L168.21 275.31 L168.89 274.59 L169.60 273.90 L170.32 273.22 L171.07 272.58 L171.83 271.96 L172.62 271.36 L173.42 270.80 L174.25 270.27 L175.09 269.77 L175.95 269.31 L176.83 268.88 L177.73 268.48 L178.64 268.11 L179.57 267.78 L180.51 267.48 L181.46 267.20 L182.43 266.96 L183.40 266.74 L184.38 266.56 L185.37 266.40 L186.36 266.27 L187.36 266.16 L188.36 266.08 L189.37 266.03 L190.37 266.00 L191.38 266.00 L192.38 266.02 L193.38 266.07 L194.38 266.14 L195.37 266.23 L196.36 266.34 L197.34 266.47 L198.33 266.62 L199.31 266.79 L200.28 266.98 L201.26 267.19 L202.23 267.42 L203.19 267.66 L204.16 267.92 L205.12 268.19 L206.08 268.47 L207.03 268.77 L207.99 269.09 L208.94 269.41 L209.88 269.75 L210.83 270.10 L211.77 270.45 L212.71 270.82 L213.65 271.19 L214.59 271.58 L215.52 271.97 L216.45 272.36 L217.38 272.76 L218.31 273.17 L219.24 273.58 L220.16 274.00 L221.08 274.41 L222.00 274.83 L222.92 275.26 L223.84 275.68 L224.76 276.10 L225.67 276.53 L226.58 276.96 L227.49 277.38 L228.41 277.81 L229.31 278.24 L230.22 278.68 L231.13 279.11 L232.03 279.54 L232.94 279.98 L233.84 280.42 L234.74 280.85 L235.65 281.29 L236.55 281.73 L237.45 282.17 L238.34 282.61 L239.24 283.05 L240.14 283.49 L241.04 283.94 L241.93 284.38 L242.83 284.82 L243.72 285.26 L244.62 285.71 L245.51 286.15 L246.40 286.60 L247.30 287.04 L248.19 287.49 L249.08 287.93 L249.97 288.38 L250.86 288.82 L251.76 289.27 L252.65 289.71 L253.54 290.16 L254.43 290.60 L255.32 291.05 L256.21 291.49 L257.10 291.93 L258.00 292.38 L258.89 292.82 L259.78 293.26 L260.67 293.70 L261.57 294.14 L262.46 294.58 L263.35 295.02 L264.25 295.46 L265.14 295.90 L266.04 296.34 L266.93 296.77 L267.83 297.21 L268.73 297.64 L269.63 298.07 L270.52 298.50 L271.42 298.93 L272.32 299.36 L273.23 299.79 L274.13 300.22 L275.03 300.64 L275.94 301.07 L276.84 301.49 L277.75 301.91 L278.65 302.33 L279.56 302.75 L280.47 303.16 L281.38 303.57 L282.29 303.99 L283.21 304.39 L284.12 304.80 L285.03 305.21 L285.95 305.61 L286.87 306.01 L287.78 306.41 L288.70 306.80 L289.62 307.20 L290.54 307.59 L291.47 307.98 L292.39 308.36 L293.32 308.75 L294.24 309.13 L295.17 309.50 L296.10 309.88 L297.03 310.25 L297.96 310.62 L298.89 310.98 L299.82 311.34 L300.76 311.70 L301.69 312.06 L302.63 312.41 L303.57 312.76 L304.51 313.11 L305.45 313.45 L306.39 313.79 L307.34 314.12 L308.28 314.45 L309.23 314.78 L310.18 315.10 L311.13 315.42 L312.08 315.74 L313.03 316.05 L313.98 316.35 L314.94 316.66 L315.89 316.96 L316.85 317.25 L317.81 317.54 L318.77 317.82 L319.74 318.11 L320.70 318.38 L321.67 318.65 L322.63 318.92 L323.60 319.18 L324.57 319.44 L325.54 319.69 L326.52 319.94 L327.49 320.19 L328.47 320.42 L329.45 320.66 L330.43 320.89 L331.41 321.11 L332.39 321.33 L333.37 321.54 L334.35 321.75 L335.34 321.96 L336.32 322.16 L337.31 322.35 L338.30 322.54 L339.29 322.73 L340.28 322.91 L341.27 323.09 L342.26 323.26 L343.25 323.42 L344.25 323.59 L345.24 323.74 L346.24 323.89 L347.23 324.04 L348.23 324.18 L349.22 324.32 L350.22 324.45 L351.22 324.58 L352.22 324.70 L353.22 324.82 L354.22 324.93 L355.22 325.04 L356.22 325.15 L357.22 325.24 L358.22 325.34 L359.22 325.43 L360.22 325.51 L361.22 325.59 L362.22 325.66 L363.22 325.73 L364.22 325.80 L365.23 325.86 L366.23 325.91 L367.23 325.96 L368.23 326.00 L369.23 326.04 L370.23 326.08 L371.23 326.11 L372.23 326.13 L373.23 326.15 L374.23 326.17 L375.23 326.18 L376.23 326.18 L377.23 326.19 L378.23 326.18 L379.23 326.17 L380.23 326.16 L381.22 326.14 L382.22 326.11 L383.22 326.09 L384.21 326.05 L385.21 326.01 L386.20 325.97 L387.19 325.92 L388.19 325.87 L389.18 325.81 L390.17 325.75 L391.17 325.69 L392.16 325.62 L393.15 325.54 L394.14 325.46 L395.13 325.38 L396.12 325.29 L397.11 325.20 L398.10 325.10 L399.09 325.00 L400.07 324.90 L401.06 324.79 L402.05 324.68 L403.03 324.56 L404.02 324.44 L405.01 324.31 L405.99 324.19 L406.98 324.05 L407.96 323.92 L408.94 323.78 L409.93 323.63 L410.91 323.48 L411.89 323.33 L412.87 323.17 L413.85 323.02 L414.84 322.85 L415.82 322.69 L416.80 322.51 L417.78 322.34 L418.75 322.16 L419.73 321.98 L420.71 321.80 L421.69 321.61 L422.67 321.42 L423.64 321.22 L424.62 321.03 L425.60 320.83 L426.57 320.62 L427.55 320.41 L428.52 320.20 L429.49 319.99 L430.47 319.77 L431.44 319.55 L432.41 319.33 L433.39 319.10 L434.36 318.87 L435.33 318.64 L436.30 318.41 L437.27 318.17 L438.24 317.93 L439.21 317.69 L440.18 317.44 L441.15 317.19 L442.12 316.94 L443.08 316.69 L444.05 316.43 L445.02 316.17 L445.99 315.91 L446.95 315.64 L447.92 315.38 L448.88 315.11 L449.85 314.84 L450.81 314.56 L451.78 314.29 L452.74 314.01 L453.70 313.73 L454.67 313.44 L455.63 313.16 L456.59 312.87 L457.55 312.58 L458.51 312.29 L459.47 311.99 L460.43 311.70 L461.39 311.40 L462.35 311.10 L463.31 310.80 L464.27 310.50 L465.23 310.19 L466.18 309.88 L467.14 309.58 L468.10 309.27 L469.05 308.95 L470.01 308.64 L470.97 308.32 L471.92 308.01 L472.88 307.69 L473.83 307.37 L474.78 307.05 L475.74 306.72 L476.69 306.40 L477.64 306.07 L478.59 305.74 L479.55 305.42 L480.50 305.09 L481.45 304.75 L482.40 304.42 L483.35 304.09 L484.30 303.75 L485.25 303.42 L486.20 303.08 L487.15 302.74 L488.09 302.40 L489.04 302.06 L489.99 301.72 L490.94 301.38 L491.88 301.04 L492.83 300.70 L493.77 300.35 L494.72 300.01 L495.66 299.66 L496.61 299.31 L497.55 298.97 L498.50 298.62 L499.44 298.27 L500.38 297.92 L501.33 297.57 L502.27 297.22 L503.21 296.87 L504.15 296.52 L505.09 296.17 L506.03 295.82 L506.97 295.47 L507.91 295.12 L508.85 294.76 L509.79 294.41 L510.73 294.06 L511.67 293.70 L512.61 293.35 L513.55 292.99 L514.48 292.64 L515.42 292.28 L516.36 291.92 L517.30 291.57 L518.23 291.21 L519.17 290.85 L520.10 290.50 L521.04 290.14 L521.98 289.78 L522.91 289.42 L523.85 289.06 L524.78 288.70 L525.72 288.35 L526.65 287.99 L527.58 287.63 L528.52 287.27 L529.45 286.91 L530.39 286.55 L531.32 286.19 L532.25 285.83 L533.19 285.47 L534.12 285.11 L535.05 284.74 L535.98 284.38 L536.92 284.02 L537.85 283.66 L538.78 283.30 L539.71 282.94 L540.64 282.58 L541.58 282.22 L542.51 281.85 L543.44 281.49 L544.37 281.13 L545.30 280.77 L546.23 280.41 L547.17 280.05 L548.10 279.68 L549.03 279.32 L549.96 278.96 L550.89 278.60 L551.82 278.24 L552.75 277.88 L553.68 277.51 L554.61 277.15 L555.54 276.79 L556.48 276.43 L557.41 276.07 L558.34 275.71 L559.27 275.35 L560.20 274.99 L561.13 274.63 L562.06 274.27 L562.99 273.91 L563.92 273.55 L564.85 273.19 L565.78 272.83 L566.72 272.47 L567.65 272.11 L568.58 271.75 L569.51 271.39 L570.44 271.03 L571.37 270.67 L572.30 270.32 L573.24 269.96 L574.17 269.60 L575.10 269.25 L576.03 268.89 L576.96 268.53 L577.90 268.18 L578.83 267.82 L579.76 267.47 L580.69 267.11 L581.63 266.76 L582.56 266.40 L583.49 266.05 L584.43 265.70 L585.36 265.34 L586.29 264.99 L587.23 264.64 L588.16 264.29 L589.10 263.94 L590.03 263.59 L590.97 263.24 L591.90 262.89 L592.84 262.54 L593.77 262.19 L594.71 261.84 L595.64 261.50 L596.58 261.15 L597.52 260.80 L598.45 260.46 L599.39 260.11 L600.33 259.77 L601.27 259.42 L602.20 259.08 L603.14 258.74 L604.08 258.40 L605.02 258.06 L605.96 257.71 L606.90 257.38 L607.84 257.04 L608.78 256.70 L609.72 256.36 L610.66 256.02 L611.60 255.69 L612.55 255.35 L613.49 255.01 L614.43 254.68 L615.37 254.35 L616.31 254.01 L617.26 253.68 L618.20 253.35 L619.15 253.02 L620.09 252.69 L621.03 252.36 L621.98 252.03 L622.92 251.70 L623.87 251.37 L624.81 251.04 L625.76 250.71 L626.71 250.39 L627.65 250.06 L628.60 249.74 L629.55 249.41 L630.49 249.09 L631.44 248.77 L632.39 248.44 L633.34 248.12 L634.29 247.80 L635.23 247.48 L636.18 247.16 L637.13 246.84 L638.08 246.52 L639.03 246.20 L639.98 245.88 L640.93 245.57 L641.88 245.25 L642.83 244.93 L643.78 244.62 L644.73 244.30 L645.68 243.99 L646.63 243.67 L647.59 243.36 L648.54 243.05 L649.49 242.73 L650.44 242.42 L651.39 242.11 L652.35 241.80 L653.30 241.49 L654.25 241.18 L655.21 240.87 L656.16 240.56 L657.11 240.25 L658.07 239.95 L659.02 239.64 L659.98 239.33 L660.93 239.03 L661.88 238.72 L662.84 238.42 L663.79 238.11 L664.75 237.81 L665.70 237.50 L666.66 237.20 L667.62 236.90 L668.57 236.60 L669.53 236.29 L670.48 235.99 L671.44 235.69 L672.40 235.39 L673.35 235.09 L674.31 234.79 L675.27 234.50 L676.22 234.20 L677.18 233.90 L678.14 233.60 L679.10 233.31 L680.05 233.01 L681.01 232.71 L681.97 232.42 L682.93 232.12 L683.88 231.83 L684.84 231.54 L685.80 231.24 L686.76 230.95 L687.72 230.66 L688.68 230.36 L689.63 230.07 L690.59 229.78 L691.55 229.49 L692.51 229.20 L693.47 228.91 L694.43 228.62 L695.39 228.33 L696.35 228.04 L697.31 227.75 L698.27 227.46 L699.23 227.18 L700.19 226.89 L701.15 226.60 L702.11 226.32 L703.06 226.03 L704.02 225.74 L704.98 225.46 L705.94 225.17 L706.90 224.89 L707.86 224.61 L708.83 224.32 L709.79 224.04 L710.75 223.76 L711.71 223.47 L712.67 223.19 L713.63 222.91 L714.59 222.63 L715.55 222.35 L716.51 222.07 L717.47 221.79 L718.43 221.51 L719.39 221.23 L720.35 220.95 L721.31 220.67 L722.27 220.39 L723.23 220.11 L724.20 219.84 L725.16 219.56 L726.12 219.29 L727.08 219.01 L728.04 218.74 L729.00 218.46 L729.96 218.19 L730.93 217.92 L731.89 217.64 L732.85 217.37 L733.81 217.10 L734.78 216.83 L735.74 216.56 L736.70 216.29 L737.66 216.02 L738.63 215.76 L739.59 215.49 L740.55 215.22 L741.52 214.96 L742.48 214.69 L743.45 214.43 L744.41 214.17 L745.38 213.91 L746.34 213.64 L747.30 213.38 L748.27 213.12 L749.24 212.87 L750.20 212.61 L751.17 212.35 L752.13 212.09 L753.10 211.84 L754.07 211.59 L755.03 211.33 L756.00 211.08 L756.97 210.83 L757.93 210.58 L758.90 210.33 L759.87 210.08 L760.84 209.83 L761.81 209.59 L762.77 209.34 L763.74 209.10 L764.71 208.85 L765.68 208.61 L766.65 208.37 L767.62 208.13 L768.59 207.89 L769.56 207.65 L770.54 207.42 L771.51 207.18 L772.48 206.95 L773.45 206.71 L774.42 206.48 L775.40 206.25 L776.37 206.02 L777.34 205.79 L778.32 205.57 L779.29 205.34 L780.27 205.12 L781.24 204.89 L782.22 204.67 L783.19 204.45 L784.17 204.23 L785.14 204.01 L786.12 203.80 L787.10 203.58 L788.08 203.37 L789.05 203.16 L790.03 202.95 L791.01 202.74 L791.99 202.53 L792.97 202.32 L793.95 202.12 L794.93 201.91 L795.91 201.71 L796.89 201.51 L797.88 201.31 L798.86 201.11 L799.84 200.92 L800.82 200.72 L801.81 200.53 L802.79 200.34 L803.78 200.15 L804.76 199.96 L805.75 199.77 L806.73 199.58 L807.72 199.40 L808.71 199.22 L809.70 199.04 L810.68 198.86 L811.67 198.68 L812.66 198.51 L813.65 198.33 L814.64 198.16 L815.63 197.99 L816.62 197.82" stroke="#ff0000" stroke-width="3.9" stroke-dasharray="13.12 5.33"/>
</g>
<path d="M94.60 460.90V452.10M94.60 15.25V24.05M130.63 460.90V455.80M130.63 15.25V20.35M166.66 460.90V455.80M166.66 15.25V20.35M202.69 460.90V455.80M202.69 15.25V20.35M238.72 460.90V452.10M238.72 15.25V24.05M274.75 460.90V455.80M274.75 15.25V20.35M310.78 460.90V455.80M310.78 15.25V20.35M346.81 460.90V455.80M346.81 15.25V20.35M382.84 460.90V452.10M382.84 15.25V24.05M418.87 460.90V455.80M418.87 15.25V20.35M454.90 460.90V455.80M454.90 15.25V20.35M490.93 460.90V455.80M490.93 15.25V20.35M526.96 460.90V452.10M526.96 15.25V24.05M562.99 460.90V455.80M562.99 15.25V20.35M599.02 460.90V455.80M599.02 15.25V20.35M635.05 460.90V455.80M635.05 15.25V20.35M671.08 460.90V452.10M671.08 15.25V24.05M707.11 460.90V455.80M707.11 15.25V20.35M743.14 460.90V455.80M743.14 15.25V20.35M779.17 460.90V455.80M779.17 15.25V20.35M815.20 460.90V452.10M815.20 15.25V24.05" stroke="#666666" stroke-width="1.05" fill="none"/>
<path d="M94.60 15.25H101.80M815.20 15.25H808.00M94.60 126.69H101.80M815.20 126.69H808.00M94.60 274.01H101.80M815.20 274.01H808.00M94.60 385.45H101.80M815.20 385.45H808.00M94.60 32.19H98.30M815.20 32.19H811.50M94.60 51.13H98.30M815.20 51.13H811.50M94.60 72.59H98.30M815.20 72.59H811.50M94.60 97.38H98.30M815.20 97.38H811.50M94.60 162.57H98.30M815.20 162.57H811.50M94.60 208.82H98.30M815.20 208.82H811.50M94.60 320.26H98.30M815.20 320.26H811.50M94.60 402.39H98.30M815.20 402.39H811.50M94.60 421.33H98.30M815.20 421.33H811.50M94.60 442.79H98.30M815.20 442.79H811.50" stroke="#666666" stroke-width="0.5" fill="none"/>
<rect x="94.60" y="15.25" width="720.60" height="445.65" fill="none" stroke="#666666" stroke-width="1.5"/>
<g font-family="'Liberation Sans', sans-serif" font-size="23.25" fill="#616161">
<text x="43.65" y="23.70">0.</text><path d="M763 0H583V1147Q518 1085 412.5 1023T223 930V1104Q374 1175 487 1276T647 1472H763Z" transform="translate(63.04 23.70) scale(0.01135 -0.01087)"/><text x="75.97" y="23.70">0</text>
<text x="43.65" y="135.14">0.05</text>
<text x="43.65" y="283.06">0.02</text>
<text x="43.65" y="393.90">0.0</text><path d="M763 0H583V1147Q518 1085 412.5 1023T223 930V1104Q374 1175 487 1276T647 1472H763Z" transform="translate(75.97 393.90) scale(0.01135 -0.01087)"/>
<text x="87.53" y="490.80">0</text>
<text x="231.65" y="490.80">2</text>
<text x="375.77" y="490.80">4</text>
<text x="519.89" y="490.80">6</text>
<text x="664.01" y="490.80">8</text>
<path d="M763 0H583V1147Q518 1085 412.5 1023T223 930V1104Q374 1175 487 1276T647 1472H763Z" transform="translate(801.67 490.80) scale(0.01135 -0.01087)"/><text x="814.60" y="490.80">0</text>
<text x="456.15" y="534.55" text-anchor="middle" font-style="italic" font-size="20.5">τ</text>
<g transform="translate(22.9,258.6) rotate(-90)"><text transform="translate(-0.6,0) scale(1.077,0.97)" font-size="23">Δ</text><text transform="translate(16.6,0) scale(0.928,0.97)" font-size="23">V</text><text transform="translate(32.35,-10.9) scale(1.075,1)" font-size="20.4" font-style="italic">r</text></g>
</g>
<g fill="none" stroke-width="3.9">
<path d="M544 298.95H634" stroke="#808080"/>
<path d="M544 347.15H634" stroke="#996633" stroke-dasharray="6 5.53"/>
<path d="M543.9 395.9H634" stroke="#ff0000" stroke-dasharray="13.12 5.33"/>
</g>
<g font-family="'Liberation Sans', sans-serif" font-size="27.9" fill="#000">
<text x="649.80" y="309.00">N</text><rect x="672.40" y="297.95" width="13.30" height="2.40"/><rect x="672.40" y="304.05" width="13.30" height="2.40"/><path d="M763 0H583V1147Q518 1085 412.5 1023T223 930V1104Q374 1175 487 1276T647 1472H763Z" transform="translate(686.99 309.00) scale(0.01362 -0.01304)"/>
<text x="649.80" y="357.40">N</text><rect x="672.40" y="346.35" width="13.30" height="2.40"/><rect x="672.40" y="352.45" width="13.30" height="2.40"/><path d="M763 0H583V1147Q518 1085 412.5 1023T223 930V1104Q374 1175 487 1276T647 1472H763Z" transform="translate(686.99 357.40) scale(0.01362 -0.01304)"/><text x="702.51" y="357.40">.</text><text x="709.66" y="357.40">5</text>
<text x="649.80" y="405.80">N</text><rect x="672.40" y="394.75" width="13.30" height="2.40"/><rect x="672.40" y="400.85" width="13.30" height="2.40"/><text x="686.99" y="405.80">2</text>
</g>
</svg>
</body></html>
